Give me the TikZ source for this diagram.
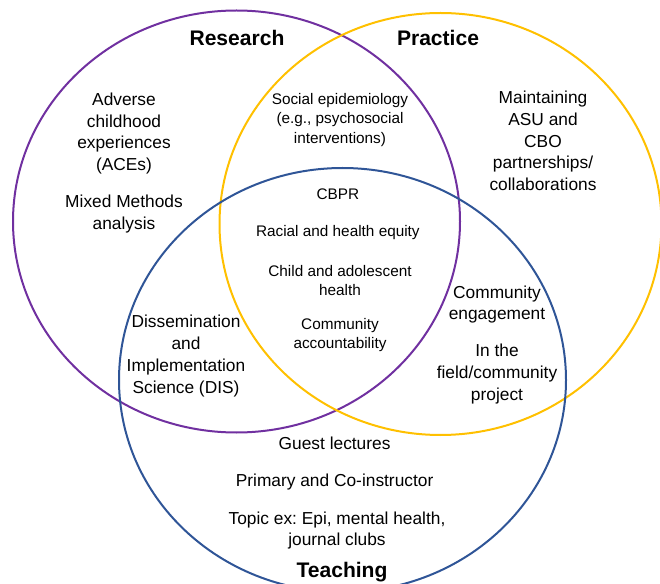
\documentclass[tikz,border=0pt]{standalone}
\usepackage{fontspec}
\setmainfont{Liberation Sans}
\usetikzlibrary{positioning}
\frenchspacing
\definecolor{ringpurple}{RGB}{112, 48, 160}
\definecolor{ringgold}{RGB}{255, 192, 0}
\definecolor{ringblue}{RGB}{47, 85, 151}
\tikzset{ring/.style={line width=1.5pt}}
\tikzset{researchring/.style={ring, draw=ringpurple}}
\tikzset{practicering/.style={ring, draw=ringgold}}
\tikzset{teachingring/.style={ring, draw=ringblue}}
\tikzset{settitle/.style={font=\fontsize{15.8}{19}\selectfont\bfseries, inner sep=0pt}}
\tikzset{item/.style={align=center, inner sep=0pt, font=\fontsize{13}{16.3}\selectfont}}
\tikzset{smallitem/.style={align=center, inner sep=0pt, font=\fontsize{11.5}{14.4}\selectfont}}

\begin{document}
\begin{tikzpicture}[x=0.75pt, y=-0.75pt]
        \useasboundingbox (0, 0) rectangle (660, 584);

        \draw [researchring] (236.5, 221.5) ellipse [x radius=223.5, y radius=211];
        \draw [practicering] (440.5, 224) ellipse [x radius=221, y radius=211];
        \draw [teachingring] (342.5, 380) ellipse [x radius=223.5, y radius=212];

        \node [settitle] (Tres) at (237, 38) { Research };
        \node [settitle] (Tpra) at (438, 38) { Practice };
        \node [settitle] (Ttea) at (342, 572) { Teaching };

        \node [item] (Races) at (124, 133.5) { Adverse\\childhood\\experiences\\(ACEs) };
        \node [item] (Rmix) at (124, 214) { Mixed Methods\\analysis };

        \node [smallitem] (RPsoc) at (340, 120) { Social epidemiology\\(e.g., psychosocial\\interventions) };

        \node [item] (Pasu) at (543, 141) { Maintaining\\ASU and\\CBO\\partnerships/\\collaborations };

        \node [smallitem] (Acbpr) at (340, 194) { CBPR };
        \node [smallitem] (Arac) at (340, 233) { Racial and health equity };
        \node [smallitem] (Achild) at (340, 280.5) { Child and adolescent\\health };
        \node [smallitem] (Aacc) at (340, 335) { Community\\accountability };

        \node [item] (PTeng) at (497, 304.5) { Community\\engagement };
        \node [item] (PTfield) at (497, 374) { In the\\field/community\\project };

        \node [item] (RTdis) at (186, 356) { Dissemination\\and\\Implementation\\Science (DIS) };

        \node [item] (Tguest) at (337, 443) { Guest lectures };
        \node [item] (Tprim) at (337, 482) { Primary and Co-instructor };
        \node [item] (Ttopic) at (337, 530.5) { Topic ex: Epi, mental health,\\journal clubs };
    \end{tikzpicture}
\end{document}
